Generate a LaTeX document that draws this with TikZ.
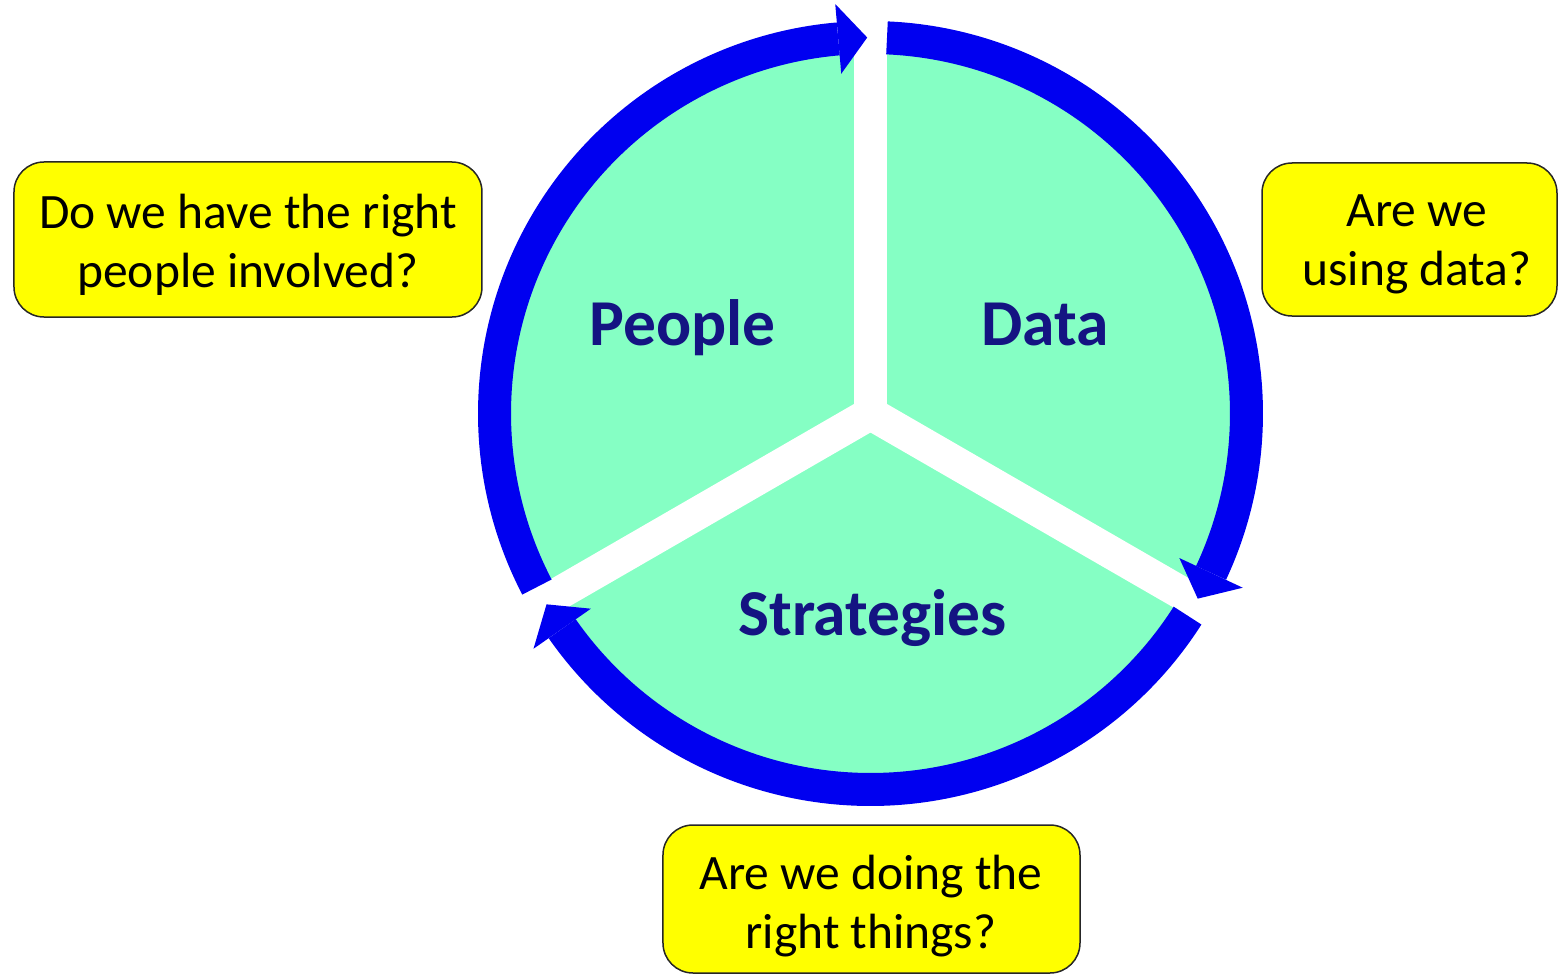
\documentclass[tikz,border=0pt]{standalone}
\usepackage{fontspec}
\setmainfont{Carlito}
\definecolor{mint}{RGB}{133,255,196}
\definecolor{ringblue}{RGB}{0,0,240}
\definecolor{navy}{RGB}{20,20,130}
\definecolor{qyellow}{RGB}{255,255,0}
\begin{document}
\begin{tikzpicture}[x=1pt,y=1pt,
  ringarc/.style={line width=33pt, draw=ringblue, line cap=butt},
  ringhead/.style={fill=ringblue},
  gapband/.style={line width=33pt, draw=white},
  question/.style={draw=black!85, line width=1.5pt, fill=qyellow, rounded corners=30pt, inner sep=0pt},
  qtext/.style={font=\fontsize{49.5}{59}\selectfont, align=center, text=black, inner sep=0pt},
  sectorlabel/.style={font=\bfseries\fontsize{65.5}{70}\selectfont, text=navy, anchor=base, inner sep=0pt}]
\useasboundingbox (-870.5,-561.5) rectangle (687.5,413.5);
\coordinate (c) at (0,0);
% disc
\fill[mint] (c) circle[radius=360];
% white gaps
\coordinate (gT) at (90:400);
\coordinate (gL) at (210:400);
\coordinate (gR) at (330:400);
\draw[gapband] (c) -- (gT);
\draw[gapband] (c) -- (gL);
\draw[gapband] (c) -- (gR);
\fill[white] (-16.5,9.53) -- (16.5,9.53) -- (0,-19.05) -- cycle;
% ring shafts
\coordinate (sD) at (87.485:376);
\coordinate (sS) at (-32.515:376);
\coordinate (sP) at (207.485:376);
\draw[ringarc] (sD) arc[start angle=87.485, end angle=-25.08, radius=376];
\draw[ringarc] (sS) arc[start angle=-32.515, end angle=-145.08, radius=376];
\draw[ringarc] (sP) arc[start angle=207.485, end angle=94.92, radius=376];
% arrow heads
\coordinate (hDt) at (-29.5:376);
\coordinate (hDa) at (-25.08:341);
\coordinate (hDb) at (-25.08:411);
\coordinate (hSt) at (-149.5:376);
\coordinate (hSa) at (-145.08:341);
\coordinate (hSb) at (-145.08:411);
\coordinate (hPt) at (90.5:376);
\coordinate (hPa) at (94.92:341);
\coordinate (hPb) at (94.92:411);
\fill[ringhead] (hDa) -- (hDt) -- (hDb) -- cycle;
\fill[ringhead] (hSa) -- (hSt) -- (hSb) -- cycle;
\fill[ringhead] (hPa) -- (hPt) -- (hPb) -- cycle;
% sector labels
\node[sectorlabel] (lP) at (-188,68.5) {People};
\node[sectorlabel] (lD) at (174.5,68.5) {Data};
\node[sectorlabel] (lS) at (2,-222) {Strategies};
% question boxes
\node[question, minimum width=468pt, minimum height=155pt] (qP) at (-622.5,174) {};
\node[question, minimum width=295pt, minimum height=153pt] (qD) at (539,174) {};
\node[question, minimum width=417pt, minimum height=148pt] (qS) at (1,-485.5) {};
\node[qtext] (tP) at (-622.5,169) {Do we have the right\\people involved?};
\node[qtext] (tD) at (546.5,169) {Are we\\using data?};
\node[qtext] (tS) at (0.5,-492.5) {Are we doing the\\right things?};
\end{tikzpicture}
\end{document}
